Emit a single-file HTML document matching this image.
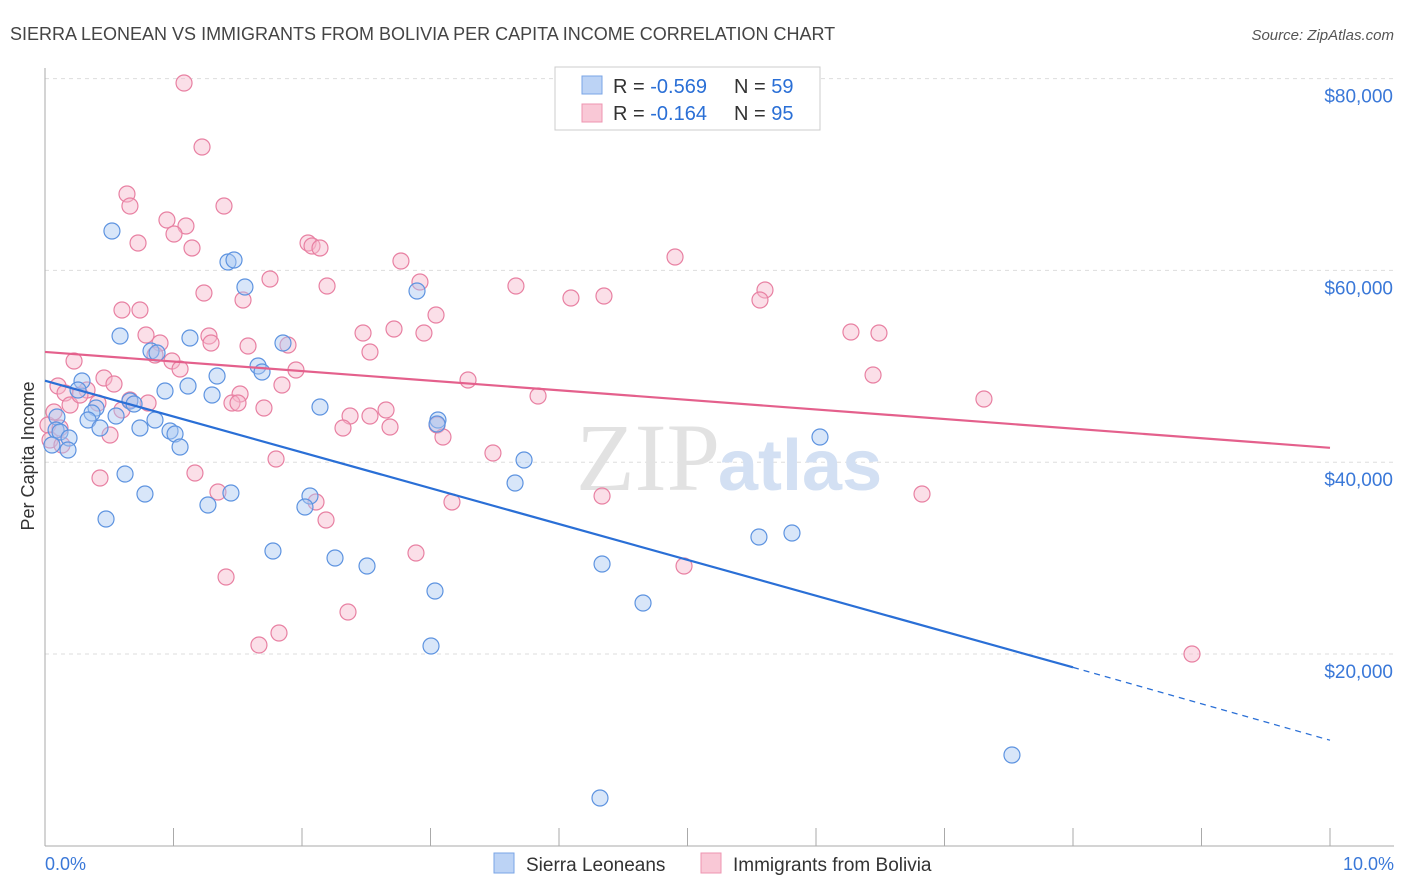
<!DOCTYPE html>
<html><head><meta charset="utf-8"><style>
body{margin:0;background:#fff;font-family:"Liberation Sans",sans-serif;}
svg{display:block}
</style></head><body>
<svg width="1406" height="892">
<text x="10" y="40" font-size="18" fill="#444">SIERRA LEONEAN VS IMMIGRANTS FROM BOLIVIA PER CAPITA INCOME CORRELATION CHART</text>
<text x="1394" y="40" font-size="15" fill="#555" font-style="italic" text-anchor="end">Source: ZipAtlas.com</text>
<g id="grid"></g>
<text x="720" y="490" font-size="96" fill="#e2e2e2" text-anchor="end" font-family="Liberation Serif">ZIP</text>
<text x="718" y="490" font-size="72" fill="#d3e0f3" font-weight="bold">atlas</text>
<line x1="45" y1="68" x2="45" y2="846" stroke="#aaa"/>
<line x1="45" y1="846" x2="1394" y2="846" stroke="#aaa"/>
<g id="xt"></g>
<text x="34" y="456" font-size="18" fill="#333" transform="rotate(-90 34 456)" text-anchor="middle">Per Capita Income</text>
<text x="45" y="870" font-size="18" fill="#3a78d8">0.0%</text>
<text x="1394" y="870" font-size="18" fill="#3a78d8" text-anchor="end">10.0%</text>
<g id="pts"></g>
<g id="lines"></g>
<g>
<rect x="555" y="67" width="265" height="63" fill="#fff" stroke="#ccc"/>
<rect x="582" y="76" width="20" height="18" fill="#bcd3f5" stroke="#7aa5e6"/>
<rect x="582" y="104" width="20" height="18" fill="#f9c8d6" stroke="#ee94b0"/>
<text x="613" y="93" font-size="20" fill="#333">R = <tspan fill="#2a6fd6">-0.569</tspan></text>
<text x="734" y="93" font-size="20" fill="#333">N = <tspan fill="#2a6fd6">59</tspan></text>
<text x="613" y="120" font-size="20" fill="#333">R =  <tspan fill="#2a6fd6">-0.164</tspan></text>
<text x="734" y="120" font-size="20" fill="#333">N = <tspan fill="#2a6fd6">95</tspan></text>
</g>
<g>
<rect x="494" y="853" width="20" height="20" fill="#bcd3f5" stroke="#7aa5e6"/>
<text x="526" y="871" font-size="19" fill="#333">Sierra Leoneans</text>
<rect x="701" y="853" width="20" height="20" fill="#f9c8d6" stroke="#ee94b0"/>
<text x="733" y="871" font-size="19" fill="#333">Immigrants from Bolivia</text>
</g>
</svg>
<script>
const yTicks=[20000,40000,60000,80000];
const yTickLabels=["$20,000","$40,000","$60,000","$80,000"];
const blueX=[],blueY=[],pinkX=[],pinkY=[];
const bluePx=[[112,231],[228,262],[234,260],[245,287],[417,291],[120,336],[190,338],[151,351],[157,353],[283,343],[258,366],[262,372],[217,376],[188,386],[165,391],[212,395],[82,381],[78,390],[130,401],[134,404],[96,408],[92,413],[116,416],[88,420],[57,417],[56,430],[60,432],[100,428],[140,428],[170,431],[175,434],[155,420],[180,447],[69,438],[68,450],[52,445],[320,407],[438,420],[437,424],[524,460],[515,483],[820,437],[125,474],[145,494],[231,493],[208,505],[106,519],[310,496],[305,507],[273,551],[335,558],[367,566],[602,564],[759,537],[792,533],[435,591],[643,603],[431,646],[1012,755],[600,798]];
const pinkPx=[[184,83],[202,147],[127,194],[130,206],[224,206],[167,220],[186,226],[174,234],[138,243],[192,248],[308,243],[312,246],[320,248],[675,257],[401,261],[270,279],[420,282],[327,286],[516,286],[571,298],[604,296],[765,290],[760,300],[204,293],[243,300],[140,310],[122,310],[436,315],[363,333],[394,329],[424,333],[851,332],[879,333],[146,335],[209,336],[211,343],[160,343],[248,346],[288,345],[370,352],[155,355],[74,361],[172,361],[180,369],[296,370],[873,375],[468,380],[104,378],[114,384],[58,386],[65,393],[87,390],[240,394],[282,385],[538,396],[984,399],[98,403],[148,403],[232,403],[238,403],[264,408],[70,405],[386,410],[350,416],[370,416],[343,428],[390,427],[437,425],[443,437],[122,410],[110,435],[493,453],[276,459],[195,473],[100,478],[218,492],[316,502],[452,502],[602,496],[922,494],[326,520],[416,553],[684,566],[226,577],[348,612],[279,633],[259,645],[1192,654],[48,425],[50,440],[60,428],[54,412],[80,395],[130,400],[62,445]];
for(const p of bluePx){blueX.push(+((p[0]-45)/128.5).toFixed(3));blueY.push(Math.round((845.7-p[1])*104.3));}
for(const p of pinkPx){pinkX.push(+((p[0]-45)/128.5).toFixed(3));pinkY.push(Math.round((845.7-p[1])*104.3));}
const blueTrend=[[0,48500],[8,18600],[10,11000]];
const pinkTrend=[[0,51500],[10,41500]];
const NS="http://www.w3.org/2000/svg";
const xs=v=>45+v*128.5, ys=v=>845.7-v/104.3;
function mk(t,a,parent){const e=document.createElementNS(NS,t);for(const k in a)e.setAttribute(k,a[k]);document.getElementById(parent).appendChild(e);return e;}
yTicks.forEach((t,i)=>{
 const l=mk('line',{x1:45,x2:1394,y1:ys(t),y2:ys(t),stroke:'#ddd','stroke-dasharray':'4,4'},'grid');
 
 
 const tx=mk('text',{x:1393,y:ys(t)+24,'font-size':19,fill:'#3a78d8','text-anchor':'end'},'grid');
 tx.textContent=yTickLabels[i];
 
 
});
for(let i=0;i<=10;i++){const l=mk('line',{x1:xs(i),x2:xs(i),y1:828,y2:846,stroke:'#aaa'},'xt');
 
 }
function dots(X,Y,fill,stroke,name){X.forEach((x,i)=>{const c=mk('circle',{cx:xs(x),cy:ys(Y[i]),r:8,fill:fill,'fill-opacity':0.45,stroke:stroke,'stroke-width':1.2},'pts');
 
 });}
dots(pinkX,pinkY,'#f7b8cb','#e880a2','point-bolivia');
dots(blueX,blueY,'#a9c7f2','#5d93e0','point-sierra-leonean');
let l=mk('line',{x1:xs(blueTrend[0][0]),y1:ys(blueTrend[0][1]),x2:xs(blueTrend[1][0]),y2:ys(blueTrend[1][1]),stroke:'#2a6fd6','stroke-width':2.2},'lines');


l=mk('line',{x1:xs(blueTrend[1][0]),y1:ys(blueTrend[1][1]),x2:xs(blueTrend[2][0]),y2:ys(blueTrend[2][1]),stroke:'#2a6fd6','stroke-width':1.2,'stroke-dasharray':'6,5'},'lines');


l=mk('line',{x1:xs(pinkTrend[0][0]),y1:ys(pinkTrend[0][1]),x2:xs(pinkTrend[1][0]),y2:ys(pinkTrend[1][1]),stroke:'#e4608c','stroke-width':2.2},'lines');


</script>
</body></html>
